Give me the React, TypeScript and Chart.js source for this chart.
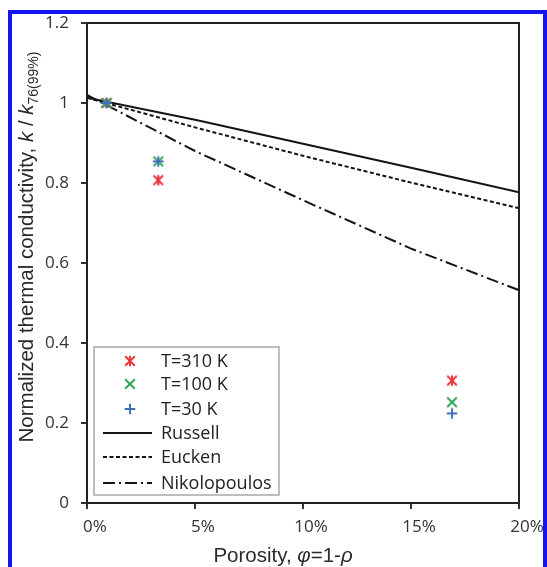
import React, { useEffect, useRef } from 'react';
import { Chart, registerables } from 'chart.js';

Chart.register(...registerables);

// ---- data ----
const xTickLabels = ['0%', '5%', '10%', '15%', '20%'];
const yTickLabels = ['0', '0.2', '0.4', '0.6', '0.8', '1', '1.2'];

const measuredPorosity = [0.009, 0.033, 0.169];
const t310Values = [1.0, 0.807, 0.306];
const t100Values = [1.0, 0.854, 0.252];
const t30Values = [1.0, 0.854, 0.224];

const modelPorosity = [0, 0.05, 0.1, 0.15, 0.2];
const russellValues = [1.013, 0.958, 0.898, 0.838, 0.777];
const euckenValues = [1.013, 0.939, 0.868, 0.801, 0.737];
const nikolopoulosValues = [1.02, 0.88, 0.757, 0.636, 0.532];

const seriesLabels = ['T=310 K', 'T=100 K', 'T=30 K', 'Russell', 'Eucken', 'Nikolopoulos'];

const RED = '#e8363c';
const GREEN = '#2ea85a';
const BLUE = '#3f6fb8';
const LINE = '#141414';

function makeMarker(kind: string, color: string) {
  const s = 14;
  const c = document.createElement('canvas');
  c.width = s;
  c.height = s;
  const g = c.getContext('2d')!;
  g.strokeStyle = color;
  g.lineWidth = 2;
  const m = s / 2;
  const r = 4.8;
  g.beginPath();
  if (kind === 'star' || kind === 'x') {
    g.moveTo(m - r, m - r);
    g.lineTo(m + r, m + r);
    g.moveTo(m + r, m - r);
    g.lineTo(m - r, m + r);
  }
  if (kind === 'star' || kind === 'plus') {
    g.moveTo(m, m - r - 0.5);
    g.lineTo(m, m + r + 0.5);
  }
  if (kind === 'plus') {
    g.moveTo(m - r - 0.5, m);
    g.lineTo(m + r + 0.5, m);
  }
  g.stroke();
  return c;
}

type Seg = { text: string; italic?: boolean; sub?: boolean };

function drawRich(
  ctx: CanvasRenderingContext2D,
  segs: Seg[],
  size: number,
  family: string,
  cx: number,
  baseline: number,
  rotate: boolean
) {
  ctx.save();
  const fontFor = (s: Seg) =>
    `${s.italic ? 'italic ' : ''}${s.sub ? Math.round(size * 0.7) : size}px ${family}`;
  let total = 0;
  const widths = segs.map((s) => {
    ctx.font = fontFor(s);
    const w = ctx.measureText(s.text).width;
    total += w;
    return w;
  });
  ctx.translate(cx, baseline);
  if (rotate) ctx.rotate(-Math.PI / 2);
  ctx.textBaseline = 'alphabetic';
  ctx.textAlign = 'left';
  ctx.fillStyle = '#2a2a2a';
  let x = -total / 2;
  segs.forEach((s, i) => {
    ctx.font = fontFor(s);
    ctx.fillText(s.text, x, s.sub ? size * 0.22 : 0);
    x += widths[i];
  });
  ctx.restore();
}

export default function App() {
  const ref = useRef<HTMLCanvasElement>(null);

  useEffect(() => {
    const canvas = ref.current;
    if (!canvas) return;
    const starRed = makeMarker('star', RED);
    const xGreen = makeMarker('x', GREEN);
    const plusBlue = makeMarker('plus', BLUE);

    const pts = (vals: number[]) => measuredPorosity.map((x, i) => ({ x, y: vals[i] }));
    const line = (vals: number[]) => modelPorosity.map((x, i) => ({ x, y: vals[i] }));

    const framePlugin = {
      id: 'frame',
      beforeDatasetsDraw(chart: any) {
        const { ctx, chartArea: a } = chart;
        ctx.save();
        ctx.strokeStyle = '#222';
        ctx.lineWidth = 2;
        ctx.beginPath();
        ctx.moveTo(a.left, a.top);
        ctx.lineTo(a.right, a.top);
        ctx.lineTo(a.right, a.bottom);
        ctx.stroke();
        ctx.restore();
      },
    };

    const legendPlugin = {
      id: 'boxLegend',
      afterDatasetsDraw(chart: any) {
        const { ctx, chartArea: a } = chart;
        const left = a.left + 7;
        const top = a.bottom - 156;
        const w = 185;
        const h = 148;
        ctx.save();
        ctx.fillStyle = '#ffffff';
        ctx.fillRect(left, top, w, h);
        ctx.strokeStyle = '#a8a8a8';
        ctx.lineWidth = 1.5;
        ctx.strokeRect(left, top, w, h);
        const rowY = [14, 37, 62, 86, 110, 136];
        const markers = [starRed, xGreen, plusBlue];
        const dashes = [[], [4, 2.5], [12, 4, 2, 4]];
        ctx.font = '18px "Open Sans"';
        ctx.fillStyle = '#222';
        ctx.textBaseline = 'middle';
        seriesLabels.forEach((lab, i) => {
          const y = top + rowY[i];
          if (i < 3) {
            const m = markers[i];
            ctx.drawImage(m, left + 36 - m.width / 2, y - m.height / 2);
          } else {
            ctx.save();
            ctx.strokeStyle = LINE;
            ctx.lineWidth = 2;
            ctx.setLineDash(dashes[i - 3]);
            ctx.beginPath();
            ctx.moveTo(left + 9, y);
            ctx.lineTo(left + 58, y);
            ctx.stroke();
            ctx.restore();
          }
          ctx.fillStyle = '#222';
          ctx.fillText(lab, left + 67, y + 1);
        });
        ctx.restore();
      },
    };

    const titlePlugin = {
      id: 'titles',
      afterDraw(chart: any) {
        const ctx = chart.ctx;
        drawRich(
          ctx,
          [{ text: 'Porosity, ' }, { text: 'φ', italic: true }, { text: '=1-' }, { text: 'ρ', italic: true }],
          20.5,
          '"Liberation Sans", Arial, sans-serif',
          283,
          562,
          false
        );
        drawRich(
          ctx,
          [
            { text: 'Normalized thermal conductivity, ' },
            { text: 'k', italic: true },
            { text: ' / ' },
            { text: 'k', italic: true },
            { text: '76(99%)', sub: true },
          ],
          20.5,
          '"Liberation Sans", Arial, sans-serif',
          33,
          247,
          true
        );
      },
    };

    const tickFont = { family: '"Open Sans", sans-serif', size: 17 };

    const chart = new Chart(canvas, {
      type: 'scatter',
      data: {
        datasets: [
          {
            label: seriesLabels[2],
            data: pts(t30Values),
            pointStyle: plusBlue as any,
            order: 0,
          },
          {
            label: seriesLabels[1],
            data: pts(t100Values),
            pointStyle: xGreen as any,
            order: 1,
          },
          {
            label: seriesLabels[0],
            data: pts(t310Values),
            pointStyle: starRed as any,
            order: 2,
          },
          {
            label: seriesLabels[3],
            data: line(russellValues),
            showLine: true,
            borderColor: LINE,
            borderWidth: 2,
            pointRadius: 0,
            order: 3,
          },
          {
            label: seriesLabels[4],
            data: line(euckenValues),
            showLine: true,
            borderColor: LINE,
            borderWidth: 2,
            borderDash: [4, 2.5],
            pointRadius: 0,
            order: 4,
          },
          {
            label: seriesLabels[5],
            data: line(nikolopoulosValues),
            showLine: true,
            borderColor: LINE,
            borderWidth: 2,
            borderDash: [12, 4, 2, 4],
            pointRadius: 0,
            order: 5,
          },
        ] as any,
      },
      options: {
        animation: false,
        responsive: false,
        maintainAspectRatio: false,
        layout: { padding: { left: 0, right: 28, top: 23, bottom: 0 } },
        plugins: { legend: { display: false }, tooltip: { enabled: false } },
        scales: {
          x: {
            type: 'linear',
            min: 0,
            max: 0.2,
            afterFit: (s: any) => {
              s.height = 64;
            },
            ticks: {
              stepSize: 0.05,
              callback: (_v: any, i: number) => xTickLabels[i],
              labelOffset: 8,
              padding: 8,
              color: '#333',
              font: tickFont,
              maxRotation: 0,
              autoSkip: false,
            },
            grid: {
              display: true,
              drawOnChartArea: false,
              drawTicks: true,
              tickLength: 6,
              color: '#333',
              lineWidth: 2,
            },
            border: { display: true, color: '#222', width: 2 },
          },
          y: {
            type: 'linear',
            min: 0,
            max: 1.2,
            afterFit: (s: any) => {
              s.width = 87;
            },
            ticks: {
              stepSize: 0.2,
              callback: (_v: any, i: number) => yTickLabels[i],
              padding: 12,
              color: '#333',
              font: tickFont,
              autoSkip: false,
            },
            grid: {
              display: true,
              drawOnChartArea: false,
              drawTicks: true,
              tickLength: 6,
              color: '#333',
              lineWidth: 2,
            },
            border: { display: true, color: '#222', width: 2 },
          },
        },
      } as any,
      plugins: [framePlugin, legendPlugin, titlePlugin],
    });

    return () => chart.destroy();
  }, []);

  return (
    <div style={{ position: 'absolute', left: 0, top: 0, width: 547, height: 567, background: '#fff', overflow: 'hidden' }}>
      <div
        style={{
          position: 'absolute',
          left: 8,
          top: 10,
          width: 539,
          height: 620,
          border: '4px solid #1414f0',
          boxSizing: 'border-box',
        }}
      />
      <canvas ref={ref} width={547} height={567} style={{ position: 'absolute', left: 0, top: 0, width: 547, height: 567 }} />
    </div>
  );
}
